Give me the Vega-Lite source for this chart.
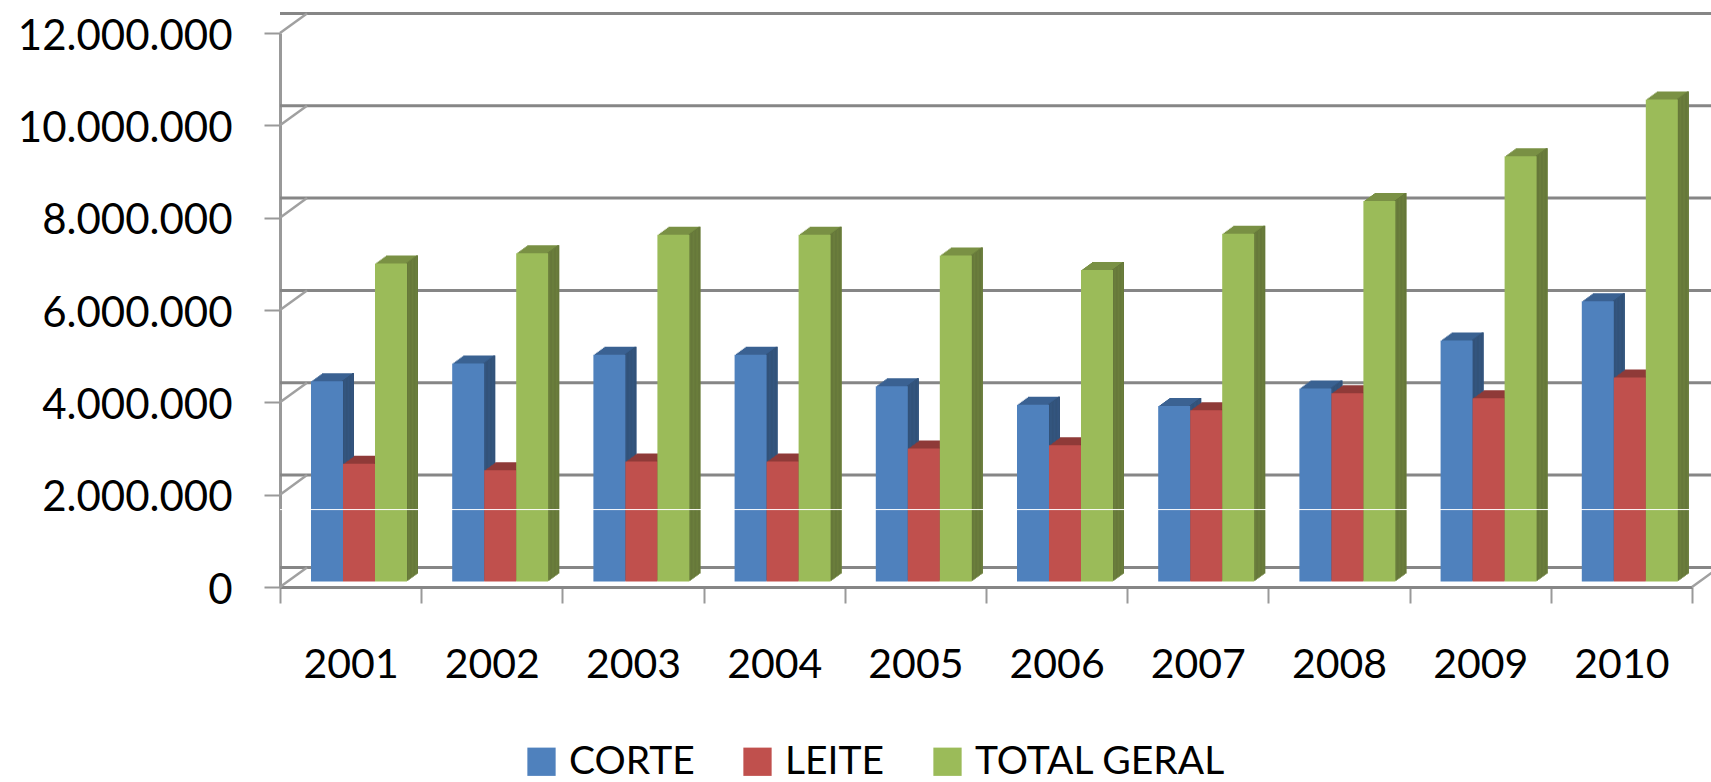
{"$schema":"https://vega.github.io/schema/vega-lite/v6.json","width":1412,"height":554,"autosize":"none","padding":{"left":280,"top":33,"right":19,"bottom":195},"background":"white","config":{"view":{"stroke":null}},
"datasets":{"bars":[
{"year":"2001","series":"CORTE","value":4340000},{"year":"2001","series":"LEITE","value":2550000},{"year":"2001","series":"TOTAL GERAL","value":6890000},
{"year":"2002","series":"CORTE","value":4720000},{"year":"2002","series":"LEITE","value":2410000},{"year":"2002","series":"TOTAL GERAL","value":7110000},
{"year":"2003","series":"CORTE","value":4910000},{"year":"2003","series":"LEITE","value":2600000},{"year":"2003","series":"TOTAL GERAL","value":7510000},
{"year":"2004","series":"CORTE","value":4910000},{"year":"2004","series":"LEITE","value":2600000},{"year":"2004","series":"TOTAL GERAL","value":7510000},
{"year":"2005","series":"CORTE","value":4230000},{"year":"2005","series":"LEITE","value":2880000},{"year":"2005","series":"TOTAL GERAL","value":7060000},
{"year":"2006","series":"CORTE","value":3830000},{"year":"2006","series":"LEITE","value":2950000},{"year":"2006","series":"TOTAL GERAL","value":6750000},
{"year":"2007","series":"CORTE","value":3800000},{"year":"2007","series":"LEITE","value":3710000},{"year":"2007","series":"TOTAL GERAL","value":7530000},
{"year":"2008","series":"CORTE","value":4180000},{"year":"2008","series":"LEITE","value":4080000},{"year":"2008","series":"TOTAL GERAL","value":8240000},
{"year":"2009","series":"CORTE","value":5220000},{"year":"2009","series":"LEITE","value":3970000},{"year":"2009","series":"TOTAL GERAL","value":9210000},
{"year":"2010","series":"CORTE","value":6070000},{"year":"2010","series":"LEITE","value":4420000},{"year":"2010","series":"TOTAL GERAL","value":10440000}],
"ticks":[{"value":0},{"value":2000000},{"value":4000000},{"value":6000000},{"value":8000000},{"value":10000000},{"value":12000000}],
"zero":[{"value":0}],
"seam":[{"value":1677000}]},
"data":{"name":"bars"},
"resolve":{"scale":{"x":"independent","y":"independent","xOffset":"independent","color":"independent"}},
"layer":[
{"data":{"name":"ticks"},"mark":{"type":"rule","color":"#868686","strokeWidth":3,"xOffset":27,"yOffset":-19.6},"encoding":{"y":{"field":"value","type":"quantitative","scale":{"domain":[0,12000000],"nice":false},"axis":{"title":null,"values":[0,2000000,4000000,6000000,8000000,10000000,12000000],"labelExpr":"replace(format(datum.value,','),/,/g,'.')","grid":false,"domainColor":"#999999","domainWidth":3,"tickColor":"#999999","tickWidth":2,"tickSize":16,"labelFont":"Lato","labelFontSize":42,"labelColor":"#000000","labelPadding":32,"labelLimit":400,"labelOffset":3}}}},
{"data":{"name":"ticks"},"mark":{"type":"rule","color":"#a0a0a0","strokeWidth":2.5,"y2Offset":-19.6},"encoding":{"x":{"value":0},"x2":{"value":27},"y":{"field":"value","type":"quantitative","scale":{"domain":[0,12000000],"nice":false},"axis":null},"y2":{"field":"value"}}},
{"data":{"name":"zero"},"mark":{"type":"rule","color":"#a0a0a0","strokeWidth":2.5,"y2Offset":-19.6},"encoding":{"x":{"value":1412},"x2":{"value":1439},"y":{"field":"value","type":"quantitative","scale":{"domain":[0,12000000],"nice":false},"axis":null},"y2":{"field":"value"}}},
{"mark":{"type":"bar","opacity":0},"encoding":{"x":{"field":"year","type":"nominal","scale":{"padding":0},"axis":{"title":null,"domainColor":"#868686","domainWidth":3,"tickColor":"#999999","tickWidth":2,"tickSize":16,"tickBand":"extent","labelAngle":0,"labelFont":"Lato","labelFontSize":41,"labelColor":"#000000","labelPadding":42}},"y":{"field":"value","type":"quantitative","stack":null,"scale":{"domain":[0,12000000],"nice":false},"axis":null}}},
{"mark":{"type":"bar","width":32},"encoding":{"x":{"field":"year","type":"nominal","scale":{"padding":0,"range":[19.4,1431.4]},"axis":null},"xOffset":{"field":"series","type":"nominal","scale":{"paddingInner":0,"paddingOuter":0.706}},"y":{"field":"value","type":"quantitative","stack":null,"scale":{"domain":[0,12000000],"nice":false,"range":[540.5,-13.5]},"axis":null},"color":{"field":"series","type":"nominal","legend":null,"scale":{"range":["#3B6292","#8F3B39","#7A9145"]}}}},
{"mark":{"type":"bar","width":2},"encoding":{"x":{"field":"year","type":"nominal","scale":{"padding":0,"range":[34.4,1446.4]},"axis":null},"xOffset":{"field":"series","type":"nominal","scale":{"paddingInner":0,"paddingOuter":0.706}},"y":{"field":"value","type":"quantitative","stack":null,"scale":{"domain":[0,12000000],"nice":false,"range":[540.5,-13.5]},"axis":null},"color":{"field":"series","type":"nominal","legend":null,"scale":{"range":["#325279","#7F3231","#66783A"]}}}},
{"mark":{"type":"bar","width":32},"encoding":{"x":{"field":"year","type":"nominal","scale":{"padding":0,"range":[18.025,1430.025]},"axis":null},"xOffset":{"field":"series","type":"nominal","scale":{"paddingInner":0,"paddingOuter":0.706}},"y":{"field":"value","type":"quantitative","stack":null,"scale":{"domain":[0,12000000],"nice":false,"range":[541.5,-12.5]},"axis":null},"color":{"field":"series","type":"nominal","legend":null,"scale":{"range":["#3B6292","#8F3B39","#7A9145"]}}}},
{"mark":{"type":"bar","width":2},"encoding":{"x":{"field":"year","type":"nominal","scale":{"padding":0,"range":[33.025,1445.025]},"axis":null},"xOffset":{"field":"series","type":"nominal","scale":{"paddingInner":0,"paddingOuter":0.706}},"y":{"field":"value","type":"quantitative","stack":null,"scale":{"domain":[0,12000000],"nice":false,"range":[541.5,-12.5]},"axis":null},"color":{"field":"series","type":"nominal","legend":null,"scale":{"range":["#325279","#7F3231","#66783A"]}}}},
{"mark":{"type":"bar","width":32},"encoding":{"x":{"field":"year","type":"nominal","scale":{"padding":0,"range":[16.65,1428.65]},"axis":null},"xOffset":{"field":"series","type":"nominal","scale":{"paddingInner":0,"paddingOuter":0.706}},"y":{"field":"value","type":"quantitative","stack":null,"scale":{"domain":[0,12000000],"nice":false,"range":[542.5,-11.5]},"axis":null},"color":{"field":"series","type":"nominal","legend":null,"scale":{"range":["#3B6292","#8F3B39","#7A9145"]}}}},
{"mark":{"type":"bar","width":2},"encoding":{"x":{"field":"year","type":"nominal","scale":{"padding":0,"range":[31.65,1443.65]},"axis":null},"xOffset":{"field":"series","type":"nominal","scale":{"paddingInner":0,"paddingOuter":0.706}},"y":{"field":"value","type":"quantitative","stack":null,"scale":{"domain":[0,12000000],"nice":false,"range":[542.5,-11.5]},"axis":null},"color":{"field":"series","type":"nominal","legend":null,"scale":{"range":["#325279","#7F3231","#66783A"]}}}},
{"mark":{"type":"bar","width":32},"encoding":{"x":{"field":"year","type":"nominal","scale":{"padding":0,"range":[15.275,1427.275]},"axis":null},"xOffset":{"field":"series","type":"nominal","scale":{"paddingInner":0,"paddingOuter":0.706}},"y":{"field":"value","type":"quantitative","stack":null,"scale":{"domain":[0,12000000],"nice":false,"range":[543.5,-10.5]},"axis":null},"color":{"field":"series","type":"nominal","legend":null,"scale":{"range":["#3B6292","#8F3B39","#7A9145"]}}}},
{"mark":{"type":"bar","width":2},"encoding":{"x":{"field":"year","type":"nominal","scale":{"padding":0,"range":[30.275,1442.275]},"axis":null},"xOffset":{"field":"series","type":"nominal","scale":{"paddingInner":0,"paddingOuter":0.706}},"y":{"field":"value","type":"quantitative","stack":null,"scale":{"domain":[0,12000000],"nice":false,"range":[543.5,-10.5]},"axis":null},"color":{"field":"series","type":"nominal","legend":null,"scale":{"range":["#325279","#7F3231","#66783A"]}}}},
{"mark":{"type":"bar","width":32},"encoding":{"x":{"field":"year","type":"nominal","scale":{"padding":0,"range":[13.9,1425.9]},"axis":null},"xOffset":{"field":"series","type":"nominal","scale":{"paddingInner":0,"paddingOuter":0.706}},"y":{"field":"value","type":"quantitative","stack":null,"scale":{"domain":[0,12000000],"nice":false,"range":[544.5,-9.5]},"axis":null},"color":{"field":"series","type":"nominal","legend":null,"scale":{"range":["#3B6292","#8F3B39","#7A9145"]}}}},
{"mark":{"type":"bar","width":2},"encoding":{"x":{"field":"year","type":"nominal","scale":{"padding":0,"range":[28.9,1440.9]},"axis":null},"xOffset":{"field":"series","type":"nominal","scale":{"paddingInner":0,"paddingOuter":0.706}},"y":{"field":"value","type":"quantitative","stack":null,"scale":{"domain":[0,12000000],"nice":false,"range":[544.5,-9.5]},"axis":null},"color":{"field":"series","type":"nominal","legend":null,"scale":{"range":["#325279","#7F3231","#66783A"]}}}},
{"mark":{"type":"bar","width":32},"encoding":{"x":{"field":"year","type":"nominal","scale":{"padding":0,"range":[12.525,1424.525]},"axis":null},"xOffset":{"field":"series","type":"nominal","scale":{"paddingInner":0,"paddingOuter":0.706}},"y":{"field":"value","type":"quantitative","stack":null,"scale":{"domain":[0,12000000],"nice":false,"range":[545.5,-8.5]},"axis":null},"color":{"field":"series","type":"nominal","legend":null,"scale":{"range":["#3B6292","#8F3B39","#7A9145"]}}}},
{"mark":{"type":"bar","width":2},"encoding":{"x":{"field":"year","type":"nominal","scale":{"padding":0,"range":[27.525,1439.525]},"axis":null},"xOffset":{"field":"series","type":"nominal","scale":{"paddingInner":0,"paddingOuter":0.706}},"y":{"field":"value","type":"quantitative","stack":null,"scale":{"domain":[0,12000000],"nice":false,"range":[545.5,-8.5]},"axis":null},"color":{"field":"series","type":"nominal","legend":null,"scale":{"range":["#325279","#7F3231","#66783A"]}}}},
{"mark":{"type":"bar","width":32},"encoding":{"x":{"field":"year","type":"nominal","scale":{"padding":0,"range":[11.15,1423.15]},"axis":null},"xOffset":{"field":"series","type":"nominal","scale":{"paddingInner":0,"paddingOuter":0.706}},"y":{"field":"value","type":"quantitative","stack":null,"scale":{"domain":[0,12000000],"nice":false,"range":[546.5,-7.5]},"axis":null},"color":{"field":"series","type":"nominal","legend":null,"scale":{"range":["#3B6292","#8F3B39","#7A9145"]}}}},
{"mark":{"type":"bar","width":2},"encoding":{"x":{"field":"year","type":"nominal","scale":{"padding":0,"range":[26.15,1438.15]},"axis":null},"xOffset":{"field":"series","type":"nominal","scale":{"paddingInner":0,"paddingOuter":0.706}},"y":{"field":"value","type":"quantitative","stack":null,"scale":{"domain":[0,12000000],"nice":false,"range":[546.5,-7.5]},"axis":null},"color":{"field":"series","type":"nominal","legend":null,"scale":{"range":["#325279","#7F3231","#66783A"]}}}},
{"mark":{"type":"bar","width":32},"encoding":{"x":{"field":"year","type":"nominal","scale":{"padding":0,"range":[9.775,1421.775]},"axis":null},"xOffset":{"field":"series","type":"nominal","scale":{"paddingInner":0,"paddingOuter":0.706}},"y":{"field":"value","type":"quantitative","stack":null,"scale":{"domain":[0,12000000],"nice":false,"range":[547.5,-6.5]},"axis":null},"color":{"field":"series","type":"nominal","legend":null,"scale":{"range":["#3B6292","#8F3B39","#7A9145"]}}}},
{"mark":{"type":"bar","width":2},"encoding":{"x":{"field":"year","type":"nominal","scale":{"padding":0,"range":[24.775,1436.775]},"axis":null},"xOffset":{"field":"series","type":"nominal","scale":{"paddingInner":0,"paddingOuter":0.706}},"y":{"field":"value","type":"quantitative","stack":null,"scale":{"domain":[0,12000000],"nice":false,"range":[547.5,-6.5]},"axis":null},"color":{"field":"series","type":"nominal","legend":null,"scale":{"range":["#325279","#7F3231","#66783A"]}}}},
{"mark":{"type":"bar","width":32},"encoding":{"x":{"field":"year","type":"nominal","scale":{"padding":0,"range":[8.4,1420.4]},"axis":null},"xOffset":{"field":"series","type":"nominal","scale":{"paddingInner":0,"paddingOuter":0.706}},"y":{"field":"value","type":"quantitative","stack":null,"scale":{"domain":[0,12000000],"nice":false,"range":[548.5,-5.5]},"axis":null},"color":{"field":"series","type":"nominal","scale":{"range":["#4F81BD","#C0504D","#9BBB59"]},"legend":{"title":null,"orient":"none","legendX":242,"legendY":709,"direction":"horizontal","columns":3,"symbolType":"square","symbolSize":800,"symbolStrokeWidth":0,"labelFont":"Lato","labelFontSize":39,"labelColor":"#000000","labelLimit":0,"columnPadding":43,"labelOffset":8,"symbolOpacity":1}}}},
{"data":{"name":"seam"},"mark":{"type":"rule","color":"#ffffff","strokeWidth":1},"encoding":{"y":{"field":"value","type":"quantitative","scale":{"domain":[0,12000000],"nice":false},"axis":null}}}
]}
